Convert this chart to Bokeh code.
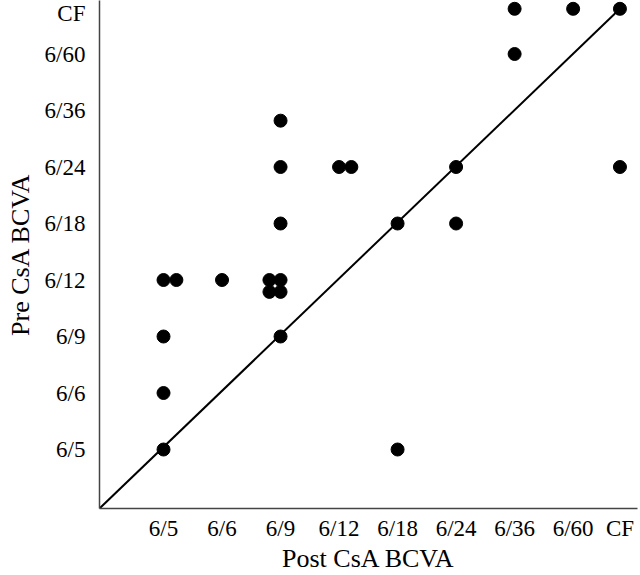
from bokeh.plotting import figure
from bokeh.models import Range1d, FixedTicker
from bokeh.embed import file_html
from bokeh.resources import INLINE

# Acuity scale: numeric code for each category
tick_values = [1, 2, 3, 4, 5, 6, 7, 8, 8.8]
tick_labels = ["6/5", "6/6", "6/9", "6/12", "6/18", "6/24", "6/36", "6/60", "CF"]

# Post CsA BCVA (x) vs Pre CsA BCVA (y), in the acuity codes above
post_bcva = [1, 1, 1, 1, 1.22, 2, 2.81, 3, 2.81, 3, 3, 3, 3, 3, 4, 4.21,
             5, 5, 6, 6, 7, 7, 8, 8.8, 8.8]
pre_bcva = [1, 2, 3, 4, 4, 4, 4, 4, 3.79, 3.79, 3, 5, 6, 6.82, 6, 6,
            5, 1, 6, 5, 8.8, 8, 8.8, 8.8, 6]

x_lo, x_hi = -0.094, 9.10
y_lo, y_hi = -0.044, 8.947
p = figure(width=640, height=575, output_backend="svg", toolbar_location=None,
           x_range=Range1d(x_lo, x_hi), y_range=Range1d(y_lo, y_hi),
           min_border_left=99, min_border_bottom=67, min_border_top=0, min_border_right=3)
p.outline_line_color = None
p.grid.visible = False
p.background_fill_color = "white"
p.border_fill_color = "white"

# identity line (from the axis corner to CF/CF)
p.line([x_lo, 8.8], [y_lo, 8.8], line_color="black", line_width=2)
p.scatter(post_bcva, pre_bcva, size=13, color="black")

label_map = {v: l for v, l in zip(tick_values, tick_labels)}
for ax in (p.xaxis[0], p.yaxis[0]):
    ax.ticker = FixedTicker(ticks=tick_values)
    ax.major_label_overrides = label_map
    ax.major_tick_line_color = None
    ax.minor_tick_line_color = None
    ax.major_tick_out = 0
    ax.major_tick_in = 0
    ax.axis_line_color = "#444444"
    ax.axis_line_width = 1.5
    ax.major_label_text_font = "Liberation Serif"
    ax.major_label_text_font_size = "23px"
    ax.major_label_text_color = "black"
    ax.axis_label_text_font = "Liberation Serif"
    ax.axis_label_text_font_size = "26px"
    ax.axis_label_text_font_style = "normal"
    ax.axis_label_text_color = "black"

p.xaxis.axis_label = "Post CsA BCVA"
p.yaxis.axis_label = "Pre CsA BCVA"
p.xaxis.major_label_standoff = 7
p.xaxis.axis_label_standoff = 0
p.yaxis.major_label_standoff = 14
p.yaxis.axis_label_standoff = 7
p.yaxis.major_label_orientation = "horizontal"

open("out.html", "w").write(file_html(p, INLINE))
